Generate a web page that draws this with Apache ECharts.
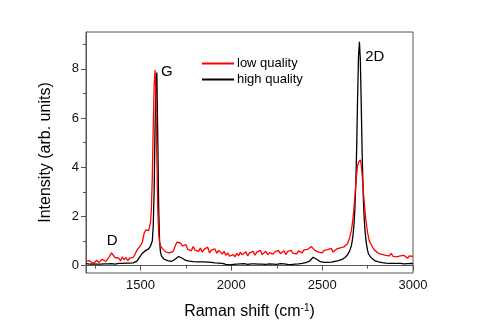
<!DOCTYPE html>
<html>
<head>
<meta charset="utf-8">
<script src="https://cdn.jsdelivr.net/npm/echarts@6/dist/echarts.min.js"></script>
<style>
  html, body { margin: 0; padding: 0; background: #fff; }
  #chart { width: 479px; height: 325px; }
</style>
</head>
<body>
<div id="chart"></div>
<script>
// Raman shift (cm-1), shared by both spectra
const shift = [
  1200, 1210, 1220, 1230, 1240, 1250, 1260, 1270, 1280, 1290, 1300, 1310, 1320, 1330, 1340, 1350, 1360, 1370, 1380, 1390,
  1400, 1410, 1420, 1430, 1440, 1450, 1460, 1470, 1480, 1490, 1500, 1510, 1520, 1530, 1540,
  1545, 1550, 1555, 1560, 1565, 1570, 1575, 1580, 1585, 1590, 1595, 1600, 1605, 1610, 1615, 1620,
  1630, 1640, 1650, 1660, 1670, 1680, 1690, 1700, 1710, 1720,
  1730, 1740, 1750, 1760, 1770, 1780, 1790, 1800, 1810, 1820,
  1830, 1840, 1850, 1860, 1870, 1880, 1890, 1900, 1910, 1920,
  1930, 1940, 1950, 1960, 1970, 1980, 1990, 2000, 2010, 2020,
  2030, 2040, 2050, 2060, 2070, 2080, 2090, 2100, 2110, 2120,
  2130, 2140, 2150, 2160, 2170, 2180, 2190, 2200, 2210, 2220,
  2230, 2240, 2250, 2260, 2270, 2280, 2290, 2300, 2310, 2320,
  2330, 2340, 2350, 2360, 2370, 2380, 2390, 2400, 2410, 2420,
  2430, 2440, 2450, 2460, 2470, 2480, 2490, 2500, 2510, 2520,
  2530, 2540, 2550, 2560, 2570, 2580, 2590, 2600, 2610, 2620,
  2630, 2640,
  2645, 2650, 2655, 2660, 2665, 2670, 2675, 2680, 2685, 2690, 2695, 2700,
  2705, 2710, 2715, 2720, 2725, 2730, 2735, 2740, 2745, 2750, 2755, 2760,
  2770, 2780, 2790, 2800, 2810, 2820, 2830, 2840, 2850, 2860, 2870, 2880,
  2890, 2900, 2910, 2920, 2930, 2940, 2950, 2960, 2970, 2980, 2990, 3000
]

const lowQuality = [
  0.18, 0.14, 0.2, 0.12, 0.09, 0.16, 0.22, 0.13, 0.19, 0.26, 0.2, 0.17, 0.28, 0.38, 0.52, 0.46, 0.33, 0.25, 0.3, 0.19,
  0.36, 0.24, 0.33, 0.2, 0.3, 0.27, 0.34, 0.46, 0.62, 0.58, 0.82, 0.95, 1.32, 1.45, 1.4,
  1.42, 1.5, 1.75, 2.3, 3.6, 5.6, 7.3, 7.95, 7.0, 4.4, 2.3, 1.3, 0.95, 0.8, 0.72, 0.7,
  0.62, 0.55, 0.48, 0.52, 0.45, 0.58, 0.78, 0.95, 0.88, 0.92,
  0.8, 0.72, 0.85, 0.66, 0.74, 0.6, 0.78, 0.63, 0.7, 0.58,
  0.72, 0.55, 0.66, 0.6, 0.75, 0.52, 0.63, 0.58, 0.68, 0.5,
  0.62, 0.55, 0.47, 0.58, 0.42, 0.52, 0.38, 0.33, 0.45, 0.36,
  0.5, 0.4, 0.55, 0.44, 0.48, 0.56, 0.39, 0.52, 0.46, 0.58,
  0.42, 0.55, 0.48, 0.62, 0.45, 0.5, 0.58, 0.44, 0.53, 0.6,
  0.47, 0.56, 0.5, 0.62, 0.48, 0.55, 0.6, 0.45, 0.58, 0.52,
  0.62, 0.5, 0.57, 0.48, 0.6, 0.55, 0.52, 0.64, 0.58, 0.66,
  0.72, 0.78, 0.7, 0.62, 0.66, 0.55, 0.6, 0.52, 0.62, 0.56,
  0.65, 0.58, 0.7, 0.55, 0.62, 0.68, 0.6, 0.72, 0.66, 0.76,
  0.82, 0.9,
  1.0, 1.1, 1.25, 1.4, 1.65, 1.95, 2.35, 2.8, 3.3, 3.75, 4.05, 4.2,
  4.25, 4.3, 4.1, 3.7, 3.2, 2.7, 2.3, 1.9, 1.6, 1.35, 1.15, 1.0,
  0.85, 0.72, 0.62, 0.58, 0.5, 0.55, 0.46, 0.52, 0.42, 0.48, 0.4, 0.5,
  0.38, 0.45, 0.36, 0.44, 0.4, 0.33, 0.42, 0.36, 0.3, 0.4, 0.34, 0.38
]

const highQuality = [
  0.08, 0.07, 0.06, 0.08, 0.07, 0.05, 0.06, 0.07, 0.06, 0.08, 0.07, 0.06, 0.07, 0.08, 0.08, 0.07, 0.06, 0.08, 0.09, 0.1,
  0.09, 0.1, 0.1, 0.11, 0.1, 0.12, 0.11, 0.13, 0.18, 0.25, 0.4, 0.5, 0.58, 0.62, 0.65,
  0.68, 0.75, 0.8, 0.85, 1.0, 1.6, 3.0, 5.6, 7.3, 7.85, 5.2, 2.4, 1.0, 0.55, 0.4, 0.33,
  0.26, 0.22, 0.2, 0.18, 0.17, 0.2, 0.26, 0.33, 0.37, 0.36,
  0.3, 0.25, 0.21, 0.19, 0.18, 0.17, 0.16, 0.17, 0.15, 0.16,
  0.15, 0.14, 0.15, 0.13, 0.14, 0.12, 0.13, 0.12, 0.11, 0.12,
  0.1, 0.11, 0.09, 0.08, 0.05, 0.02, 0.03, 0.06, 0.05, 0.07,
  0.06, 0.08, 0.07, 0.06, 0.08, 0.07, 0.05, 0.06, 0.07, 0.06,
  0.07, 0.05, 0.06, 0.08, 0.06, 0.07, 0.05, 0.06, 0.07, 0.05,
  0.06, 0.07, 0.05, 0.06, 0.08, 0.06, 0.07, 0.06, 0.05, 0.06,
  0.04, 0.07, 0.06, 0.08, 0.07, 0.08, 0.09, 0.1, 0.12, 0.14,
  0.18, 0.26, 0.34, 0.32, 0.26, 0.2, 0.16, 0.14, 0.13, 0.14,
  0.13, 0.15, 0.14, 0.16, 0.17, 0.18, 0.2, 0.22, 0.25, 0.3,
  0.36, 0.45,
  0.5, 0.58, 0.68, 0.8, 0.98, 1.25, 1.65, 2.3, 3.3, 4.8, 6.8, 8.5,
  9.1, 8.4, 6.6, 4.6, 3.1, 2.1, 1.5, 1.1, 0.82, 0.62, 0.48, 0.4,
  0.32, 0.26, 0.2, 0.17, 0.15, 0.13, 0.12, 0.11, 0.1, 0.1, 0.09, 0.1,
  0.09, 0.08, 0.09, 0.08, 0.09, 0.08, 0.07, 0.09, 0.08, 0.08, 0.09, 0.08
]

// peak labels: [text, x, y]
const peakLabels = [
  ['D', 1344, 0.99],
  ['G', 1645, 7.86],
  ['2D', 2790, 8.48]
]

const xMajor = [1500, 2000, 2500, 3000]
const xMinor = [1250, 1750, 2250, 2750]
const yMajor = [0, 2, 4, 6, 8]
const yMinor = [1, 3, 5, 7, 9]

const pair = (ys) => shift.map((x, i) => [x, ys[i]])

const frame = '#555'
const font = 'Liberation Sans, Arial, sans-serif'

const chart = echarts.init(document.getElementById('chart'))
chart.setOption({
  animation: false,
  textStyle: { fontFamily: font },
  grid: {
    left: 86, right: 66, top: 32, bottom: 51,
    show: true, borderColor: frame, borderWidth: 1
  },
  legend: {
    data: ['low quality', 'high quality'],
    orient: 'vertical',
    left: 197, top: 52,
    itemWidth: 32, itemHeight: 2, itemGap: 3,
    icon: 'rect',
    textStyle: { fontSize: 13, color: '#000', fontFamily: font, padding: [0, 0, 0, -2] }
  },
  xAxis: [{
    type: 'value', min: 1200, max: 3000,
    name: 'Raman shift (cm{sup|-1})',
    nameLocation: 'middle', nameGap: 30,
    nameTextStyle: {
      fontSize: 16, color: '#000', fontFamily: font,
      rich: { sup: { fontSize: 10, color: '#000', padding: [0, 0, 8, 0], fontFamily: font } }
    },
    splitLine: { show: false },
    axisLine: { lineStyle: { color: frame } },
    axisTick: { customValues: xMajor, length: 5, lineStyle: { color: frame } },
    axisLabel: { customValues: xMajor, fontSize: 13, color: '#111', margin: 6, fontFamily: font, formatter: (v) => String(v) }
  }, {
    type: 'value', min: 1200, max: 3000, position: 'bottom',
    splitLine: { show: false },
    axisLine: { show: false },
    axisTick: { customValues: xMinor, length: 3, lineStyle: { color: frame } },
    axisLabel: { show: false }
  }],
  yAxis: [{
    type: 'value', min: -0.3, max: 9.5,
    name: 'Intensity (arb. units)',
    nameLocation: 'middle', nameGap: 32,
    nameTextStyle: { fontSize: 16, color: '#000', fontFamily: font },
    splitLine: { show: false },
    axisLine: { show: true, lineStyle: { color: frame } },
    axisTick: { customValues: yMajor, length: 5, lineStyle: { color: frame } },
    axisLabel: { customValues: yMajor, fontSize: 13, color: '#111', margin: 7, fontFamily: font }
  }, {
    type: 'value', min: -0.3, max: 9.5, position: 'left',
    splitLine: { show: false },
    axisLine: { show: false },
    axisTick: { customValues: yMinor, length: 3, lineStyle: { color: frame } },
    axisLabel: { show: false }
  }],
  series: [{
    name: 'high quality',
    type: 'line',
    data: pair(highQuality),
    showSymbol: false, symbol: 'none',
    lineStyle: { color: '#000', width: 1.3 },
    itemStyle: { color: '#000' },
    z: 2,
    markPoint: {
      symbol: 'circle', symbolSize: 0,
      label: { show: true, position: 'inside', fontSize: 15, color: '#000', fontFamily: font, formatter: (p) => p.name },
      data: peakLabels.map(l => ({ name: l[0], coord: [l[1], l[2]] }))
    }
  }, {
    name: 'low quality',
    type: 'line',
    data: pair(lowQuality),
    showSymbol: false, symbol: 'none',
    lineStyle: { color: '#ff0000', width: 1.3 },
    itemStyle: { color: '#ff0000' },
    z: 3
  }]
})
</script>
</body>
</html>
